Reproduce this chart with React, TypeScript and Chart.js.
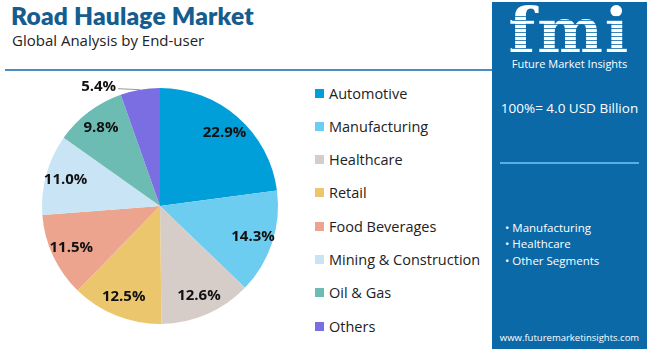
import React, { useEffect, useRef } from "react";
import { Chart, registerables } from "chart.js";

Chart.register(...registerables);

const categories = [
  "Automotive",
  "Manufacturing",
  "Healthcare",
  "Retail",
  "Food Beverages",
  "Mining & Construction",
  "Oil & Gas",
  "Others",
];
const shares = [22.9, 14.3, 12.6, 12.5, 11.5, 11.0, 9.8, 5.4];
const colors = [
  "#009fd9",
  "#6dcdf1",
  "#d6cdc9",
  "#ebc66c",
  "#eca48e",
  "#c9e5f5",
  "#6dbcb4",
  "#7b6ee2",
];
const titleText = "Road Haulage Market";
const subtitleText = "Global Analysis by End-user";
const totalText = "100%= 4.0 USD Billion";
const bulletItems = ["Manufacturing", "Healthcare", "Other Segments"];
const siteText = "www.futuremarketinsights.com";

const FONT = "'Open Sans', 'Lato', sans-serif";
const PANEL = "#0b69a8";

const labelPlugin = {
  id: "sliceLabels",
  afterDatasetsDraw(chart: any) {
    const { ctx } = chart;
    const meta = chart.getDatasetMeta(0);
    ctx.save();
    ctx.font = `bold 15px ${FONT}`;
    ctx.fillStyle = "#111111";
    ctx.textBaseline = "middle";
    meta.data.forEach((arc: any, i: number) => {
      const p = arc.getProps(["x", "y", "startAngle", "endAngle", "outerRadius"], true);
      const mid = (p.startAngle + p.endAngle) / 2;
      const txt = shares[i].toFixed(1) + "%";
      if (shares[i] < 7) {
        const ex = p.x + Math.cos(mid) * p.outerRadius;
        const ey = p.y + Math.sin(mid) * p.outerRadius;
        const lx = ex - 22;
        ctx.strokeStyle = "#999999";
        ctx.lineWidth = 1;
        ctx.beginPath();
        ctx.moveTo(ex, ey);
        ctx.lineTo(lx, ey - 1);
        ctx.stroke();
        ctx.textAlign = "right";
        ctx.fillText(txt, lx - 2, ey - 3);
      } else {
        const r = p.outerRadius * 0.83;
        ctx.textAlign = "center";
        ctx.fillText(txt, p.x + Math.cos(mid) * r, p.y + Math.sin(mid) * r);
      }
    });
    ctx.restore();
  },
};

function PieChart() {
  const ref = useRef<HTMLCanvasElement | null>(null);
  useEffect(() => {
    if (!ref.current) return;
    const chart = new Chart(ref.current, {
      type: "pie",
      data: {
        labels: categories,
        datasets: [
          {
            data: shares,
            backgroundColor: colors,
            borderWidth: 0,
          },
        ],
      },
      options: {
        responsive: false,
        animation: false,
        layout: { padding: { left: 42, right: 22, top: 18, bottom: 26 } },
        plugins: {
          legend: { display: false },
          tooltip: { enabled: false },
        },
      },
      plugins: [labelPlugin],
    });
    return () => chart.destroy();
  }, []);
  return (
    <canvas
      ref={ref}
      width={300}
      height={280}
      style={{ position: "absolute", left: 0, top: 70, width: 300, height: 280 }}
    />
  );
}

export default function App() {
  const stripes = [];
  for (let k = 0; k < 11; k++) {
    stripes.push(
      <div
        key={k}
        style={{
          position: "absolute",
          left: 20,
          width: 115,
          top: 14 + k * 4,
          height: 1.2,
          background: PANEL,
          opacity: 0.8,
        }}
      />
    );
  }
  return (
    <div
      style={{
        position: "fixed",
        left: 0,
        top: 0,
        width: 650,
        height: 352,
        background: "#ffffff",
        overflow: "hidden",
        fontFamily: FONT,
      }}
    >
      <div
        style={{
          position: "absolute",
          left: 11,
          top: 1,
          fontSize: 24.5,
          fontWeight: 800,
          color: "#165d8f",
          fontFamily: "'Lato', sans-serif",
          letterSpacing: 0.2,
          whiteSpace: "nowrap",
        }}
      >
        {titleText}
      </div>
      <div
        style={{
          position: "absolute",
          left: 12,
          top: 30,
          fontSize: 15,
          color: "#222222",
          whiteSpace: "nowrap",
        }}
      >
        {subtitleText}
      </div>
      <div
        style={{
          position: "absolute",
          left: 5,
          top: 69,
          width: 488,
          height: 2,
          background: "#4b8dc2",
        }}
      />
      <PieChart />
      {categories.map((c, i) => (
        <div
          key={c}
          style={{
            position: "absolute",
            left: 315,
            top: 93 + i * 33.3 - 10,
            height: 20,
            display: "flex",
            alignItems: "center",
            whiteSpace: "nowrap",
          }}
        >
          <span
            style={{
              display: "inline-block",
              width: 9,
              height: 9,
              background: colors[i],
              marginRight: 5,
            }}
          />
          <span style={{ fontSize: 14.5, color: "#222222" }}>{c}</span>
        </div>
      ))}
      <div
        style={{
          position: "absolute",
          left: 492,
          top: 2,
          width: 155,
          height: 347,
          background: PANEL,
        }}
      >
        <div
          style={{
            position: "absolute",
            left: 0,
            width: 155,
            top: -6,
            textAlign: "center",
            fontSize: 62,
            fontWeight: 700,
            color: "#ffffff",
            fontFamily: "'DejaVu Serif', serif",
            letterSpacing: 2,
            lineHeight: "70px",
          }}
        >
          fmi
        </div>
        {stripes}
        <div
          style={{
            position: "absolute",
            left: 0,
            width: 155,
            top: 54,
            textAlign: "center",
            fontSize: 11,
            color: "#ffffff",
          }}
        >
          Future Market Insights
        </div>
        <div
          style={{
            position: "absolute",
            left: 0,
            width: 155,
            top: 97,
            textAlign: "center",
            fontSize: 13.5,
            color: "#ffffff",
            whiteSpace: "nowrap",
          }}
        >
          {totalText}
        </div>
        <div
          style={{
            position: "absolute",
            left: 8,
            top: 160,
            width: 139,
            height: 2,
            background: "#5aaee2",
          }}
        />
        {bulletItems.map((b, i) => (
          <div
            key={b}
            style={{
              position: "absolute",
              left: 13,
              top: 218 + i * 15.5 + (i === 2 ? 1.5 : 0),
              fontSize: 11.5,
              color: "#ffffff",
              whiteSpace: "nowrap",
              lineHeight: "16px",
            }}
          >
            {"\u2022 " + b}
          </div>
        ))}
        <div
          style={{
            position: "absolute",
            left: 0,
            width: 155,
            top: 329,
            textAlign: "center",
            fontSize: 9.5,
            color: "#ffffff",
            whiteSpace: "nowrap",
          }}
        >
          {siteText}
        </div>
      </div>
    </div>
  );
}
